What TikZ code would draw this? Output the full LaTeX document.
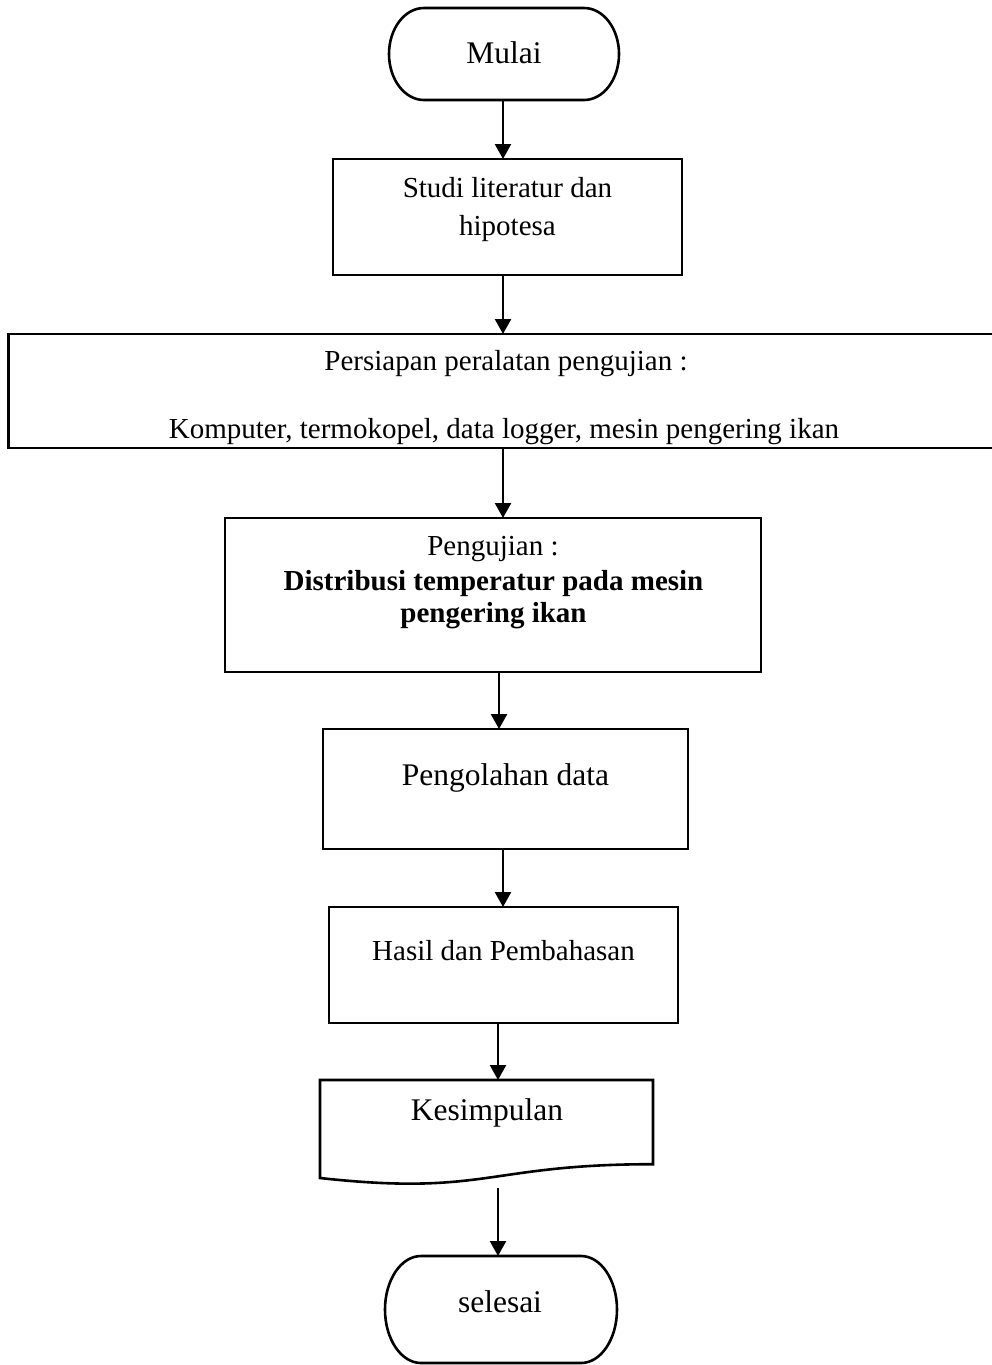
\documentclass[tikz,border=0pt]{standalone}
\usepackage{fontspec}
\setmainfont{Liberation Serif}
\usetikzlibrary{arrows.meta}
\begin{document}
\begin{tikzpicture}[x=1pt,y=-1pt,
  outline/.style={draw=black,line width=2.6pt,line join=miter},
  boxshape/.style 2 args={draw=black,line width=2.6pt,minimum width=#1,minimum height=#2,inner sep=0pt,outer sep=0pt},
  ghost/.style 2 args={draw=none,minimum width=#1,minimum height=#2,inner sep=0pt,outer sep=0pt},
  txt/.style={anchor=base,inner sep=0pt,font=\fontsize{29}{35}\selectfont},
  bigtxt/.style={anchor=base,inner sep=0pt,font=\fontsize{31.5}{38}\selectfont},
  arr/.style={draw=black,line width=2.4pt,-{Triangle[length=15pt,width=16pt]}}
]
\useasboundingbox (0,0) rectangle (992,1365);

% Mulai terminal
\node[ghost={230pt}{92pt}] (mulai) at (504,54) {};
\draw[outline] (424,8) -- (584,8) arc[start angle=-90,end angle=90,x radius=35,y radius=46]
  -- (424,100) arc[start angle=90,end angle=270,x radius=35,y radius=46] -- cycle;
\node[bigtxt] (tmulai) at (504,63) {Mulai};

% Studi literatur
\node[boxshape={349pt}{116pt}] (studi) at (507.5,217) {};
\node[txt] (tstudi1) at (507.5,197) {Studi literatur dan};
\node[txt] (tstudi2) at (507.5,235) {hipotesa};

% Persiapan (wide)
\node[txt] (tpers1) at (506,370) {Persiapan peralatan pengujian :};
\node[txt] (tpers2) at (504,438) {Komputer, termokopel, data logger, mesin pengering ikan};
\node[boxshape={1001.5pt}{114pt}] (pers) at (509.25,391) {};

% Pengujian
\node[boxshape={536pt}{154pt}] (uji) at (493,595) {};
\node[txt] (tuji1) at (493,555) {Pengujian :};
\node[txt,font=\fontsize{29}{35}\selectfont\bfseries] (tuji2) at (493.5,590) {Distribusi temperatur pada mesin};
\node[txt,font=\fontsize{29}{35}\selectfont\bfseries] (tuji3) at (493.5,622) {pengering ikan};

% Pengolahan data
\node[boxshape={365pt}{120pt}] (olah) at (505.5,789) {};
\node[bigtxt] (tolah) at (505.5,785) {Pengolahan data};

% Hasil dan Pembahasan
\node[boxshape={349pt}{116pt}] (hasil) at (503.5,965) {};
\node[txt] (thasil) at (503.5,960) {Hasil dan Pembahasan};

% Kesimpulan (document)
\node[ghost={333pt}{105pt}] (doc) at (486.5,1132.5) {};
\draw[outline] (320,1080) -- (653,1080) -- (653,1164.2)
  .. controls (486.5,1164.2) and (486.5,1196.3) .. (320,1178) -- cycle;
\node[bigtxt] (tdoc) at (487,1120) {Kesimpulan};
\coordinate (docout) at (498,1188);

% selesai terminal
\node[ghost={232pt}{107pt}] (selesai) at (501,1309.5) {};
\draw[outline] (421,1256) -- (581,1256) arc[start angle=-90,end angle=90,x radius=36,y radius=53.5]
  -- (421,1363) arc[start angle=90,end angle=270,x radius=36,y radius=53.5] -- cycle;
\node[bigtxt] (tselesai) at (500,1312) {selesai};

% connectors
\draw[arr] ([xshift=-1pt]mulai.south) -- ([xshift=-4.5pt]studi.north);
\draw[arr] ([xshift=-4.5pt]studi.south) -- ([xshift=-6.25pt]pers.north);
\draw[arr] ([xshift=-6.25pt]pers.south) -- ([xshift=10pt]uji.north);
\draw[arr] ([xshift=6pt]uji.south) -- ([xshift=-6.5pt]olah.north);
\draw[arr] ([xshift=-2.5pt]olah.south) -- ([xshift=-0.5pt]hasil.north);
\draw[arr] ([xshift=-5.5pt]hasil.south) -- ([xshift=11.5pt]doc.north);
\draw[arr] (docout) -- ([xshift=-3pt]selesai.north);
\end{tikzpicture}
\end{document}
